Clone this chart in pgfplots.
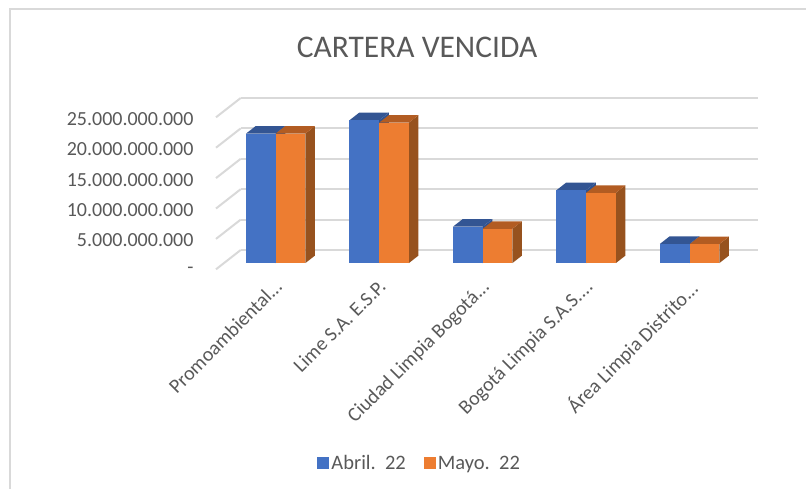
\documentclass[border=0pt]{standalone}
\usepackage{fontspec}
\setmainfont{Carlito}
\usepackage{pgfplots}
\pgfplotsset{compat=1.18}
\definecolor{txt}{HTML}{595959}
\definecolor{grd}{HTML}{D9D9D9}
\definecolor{bluefront}{HTML}{4472C4}
\definecolor{bluetop}{HTML}{335593}
\definecolor{blueside}{HTML}{2F5290}
\definecolor{orangefront}{HTML}{ED7D31}
\definecolor{orangetop}{HTML}{B25C22}
\definecolor{orangeside}{HTML}{97521E}
% one 3D bar: colour, left x, right x, value in 1e9
\newcommand{\barthreed}[4]{
  \addplot3[draw=none,fill=#1side,forget plot] coordinates {(#3,0.32,0)(#3,0.71,0)(#3,0.71,#4)(#3,0.32,#4)};
  \addplot3[draw=none,fill=#1top,forget plot] coordinates {(#2,0.32,#4)(#3,0.32,#4)(#3,0.71,#4)(#2,0.71,#4)};
  \addplot3[draw=none,fill=#1front,forget plot] coordinates {(#2,0.32,0)(#3,0.32,0)(#3,0.32,#4)(#2,0.32,#4)};
}
\begin{document}
\begin{tikzpicture}
  \path[use as bounding box] (0pt,0pt) rectangle (806pt,-489pt);
  \draw[grd,line width=2.3pt] (10pt,-489pt) -- (10pt,-9pt) -- (806pt,-9pt);
  \node[txt,font=\fontsize{31.5}{38}\selectfont] at (417pt,-47pt) {CARTERA VENCIDA};
  \begin{axis}[
    at={(216pt,-269.3pt)},
    anchor=origin,
    x={(103.5pt,0pt)},
    y={(24.7pt,19.3pt)},
    z={(0pt,6.08pt)},
    xmin=0, xmax=5,
    ymin=0, ymax=1,
    zmin=0, zmax=25,
    clip=false,
    axis line style={draw=none},
    tick style={draw=none},
    zmajorgrids=true,
    major grid style={grd,line width=2pt},
    xtick={0.5,1.5,2.5,3.5,4.5},
    xticklabels={{Promoambiental.{}.{}.},{Lime S.A. E.S.P.\hspace{12.7pt}},{Ciudad Limpia Bogotá.{}.{}.},{Bogotá Limpia S.A.S.{}.{}.{}.},{Área Limpia Distrito.{}.{}.}},
    ytick=\empty,
    ztick={0,5,10,15,20,25},
    zticklabels={\raisebox{-3pt}{-}\hspace{10pt},5.000.000.000,10.000.000.000,15.000.000.000,20.000.000.000,25.000.000.000},
    zticklabel pos=left,
    tick label style={txt,font=\fontsize{20}{24}\selectfont},
    z tick label style={anchor=east,xshift=-19pt,yshift=-1.5pt},
    x tick label style={rotate=45,anchor=north east,xshift=1.5pt,yshift=-7pt},
    legend columns=2,
    legend style={draw=none,fill=none,text=txt,font=\fontsize{20.5}{24}\selectfont,
      at={(0.3757,-1.133)},anchor=center,/tikz/every even column/.append style={column sep=16pt}},
    legend image code/.code={\fill[#1] (-4pt,-5.5pt) rectangle (8pt,6pt);},
  ]
    \addlegendimage{fill=bluefront,draw=none}
    \addlegendentry{Abril.\ \ 22}
    \addlegendimage{fill=orangefront,draw=none}
    \addlegendentry{Mayo.\ \ 22}
    \barthreed{blue}{0.2134}{0.5}{21.3}
    \barthreed{orange}{0.5}{0.7866}{21.3}
    \barthreed{blue}{1.2134}{1.5}{23.5}
    \barthreed{orange}{1.5}{1.7866}{23.1}
    \barthreed{blue}{2.2134}{2.5}{6.0}
    \barthreed{orange}{2.5}{2.7866}{5.64}
    \barthreed{blue}{3.2134}{3.5}{12.0}
    \barthreed{orange}{3.5}{3.7866}{11.56}
    \barthreed{blue}{4.2134}{4.5}{3.17}
    \barthreed{orange}{4.5}{4.7866}{3.12}
  \end{axis}
\end{tikzpicture}
\end{document}
